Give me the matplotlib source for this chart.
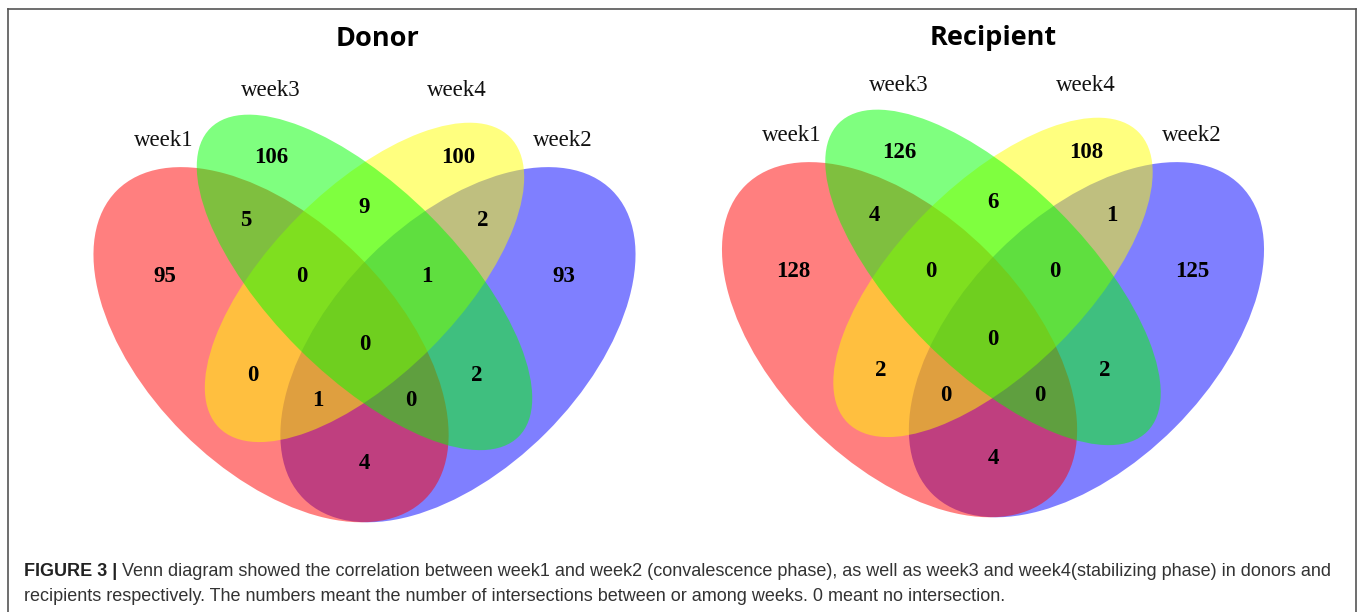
import matplotlib
matplotlib.use("Agg")
import matplotlib.pyplot as plt
from matplotlib.patches import Ellipse
from matplotlib.lines import Line2D

# ---- data ----
set_names = ["week1", "week2", "week3", "week4"]
set_colors = ["#FF0000", "#0000FF", "#00FF00", "#FFFF00"]

# regions named by the weeks they share
regions = ["1", "3", "4", "2", "13", "34", "42", "134", "342",
           "1234", "14", "32", "124", "123", "12"]
donor_counts = [95, 106, 100, 93, 5, 9, 2, 0, 1, 0, 0, 2, 1, 0, 4]
recipient_counts = [128, 126, 108, 125, 4, 6, 1, 0, 0, 0, 2, 2, 0, 0, 4]

panel_titles = ["Donor", "Recipient"]
panel_counts = [donor_counts, recipient_counts]

caption_bold = "FIGURE 3 |"
caption_line1 = (" Venn diagram showed the correlation between week1 and week2 "
                 "(convalescence phase), as well as week3 and week4(stabilizing phase) in donors and")
caption_line2 = ("recipients respectively. The numbers meant the number of intersections "
                 "between or among weeks. 0 meant no intersection.")

# ---- quad venn layout (unit square, like VennDiagram) ----
# week -> (x, y, a, b, angle); drawn in this order
ellipse_layout = {
    "week2": (0.65, 0.47, 0.35, 0.20, 45),
    "week1": (0.35, 0.47, 0.35, 0.20, 135),
    "week4": (0.50, 0.57, 0.33, 0.15, 45),
    "week3": (0.50, 0.57, 0.35, 0.15, 135),
}
label_layout = [(0.18, 0.58), (0.35, 0.77), (0.65, 0.77), (0.82, 0.58),
                (0.31, 0.67), (0.50, 0.69), (0.69, 0.67), (0.40, 0.58),
                (0.60, 0.58), (0.50, 0.47), (0.32, 0.42), (0.68, 0.42),
                (0.425, 0.38), (0.575, 0.38), (0.50, 0.28)]
name_layout = {"week1": (0.177, 0.798), "week3": (0.349, 0.878),
               "week4": (0.649, 0.878), "week2": (0.819, 0.798)}

W, H = 1358, 612
fig = plt.figure(figsize=(W / 100, H / 100), dpi=100)

# panel placement in pixels: centre x, centre y (from top), side
panels = [(364.5, 326, 623), (993, 321, 623)]
title_pos = [(377, 39), (993, 38)]

for p, (cx, cy, side) in enumerate(panels):
    ax = fig.add_axes([(cx - side / 2) / W, (H - cy - side / 2) / H, side / W, side / H])
    ax.set_xlim(0, 1)
    ax.set_ylim(0, 1)
    ax.axis("off")
    for name in ["week2", "week1", "week4", "week3"]:
        x, y, a, b, ang = ellipse_layout[name]
        col = set_colors[set_names.index(name)]
        ax.add_patch(Ellipse((x, y), 2 * a, 2 * b, angle=ang, facecolor=col,
                             alpha=0.5, edgecolor="none", clip_on=False))
    for (lx, ly), n in zip(label_layout, panel_counts[p]):
        ax.text(lx, ly, str(n), ha="center", va="center", fontsize=16.5,
                fontweight="bold", family="Liberation Serif", color="black")
    for name, (nx, ny) in name_layout.items():
        ax.text(nx, ny, name, ha="center", va="center", fontsize=16.5,
                family="Liberation Serif", color="#111111")
    tx, ty = title_pos[p]
    fig.text(tx / W, 1 - ty / H, panel_titles[p], ha="center", va="center",
             fontsize=19.5, fontweight="bold", family="Open Sans", color="black")

# frame around the figure (bottom runs off the image)
frame = dict(color="#555555", linewidth=1.2, transform=fig.transFigure)
fig.add_artist(Line2D([7.5 / W, 7.5 / W], [1 - 9 / H, -0.01], **frame))
fig.add_artist(Line2D([1356 / W, 1356 / W], [1 - 9 / H, -0.01], **frame))
fig.add_artist(Line2D([7.5 / W, 1356 / W], [1 - 9 / H, 1 - 9 / H], **frame))

# caption
cap_x, y1, y2 = 24, 576, 601
t = fig.text(cap_x / W, 1 - y1 / H, caption_bold, ha="left", va="baseline",
             fontsize=13, fontweight="bold", family="Liberation Sans", color="#222222")
r = fig.canvas.get_renderer()
bw = t.get_window_extent(r).width
fig.text((cap_x + bw) / W, 1 - y1 / H, caption_line1, ha="left", va="baseline",
         fontsize=13, family="Liberation Sans", color="#333333")
fig.text(cap_x / W, 1 - y2 / H, caption_line2, ha="left", va="baseline",
         fontsize=13, family="Liberation Sans", color="#333333")

fig.savefig("out.png", dpi=100)
